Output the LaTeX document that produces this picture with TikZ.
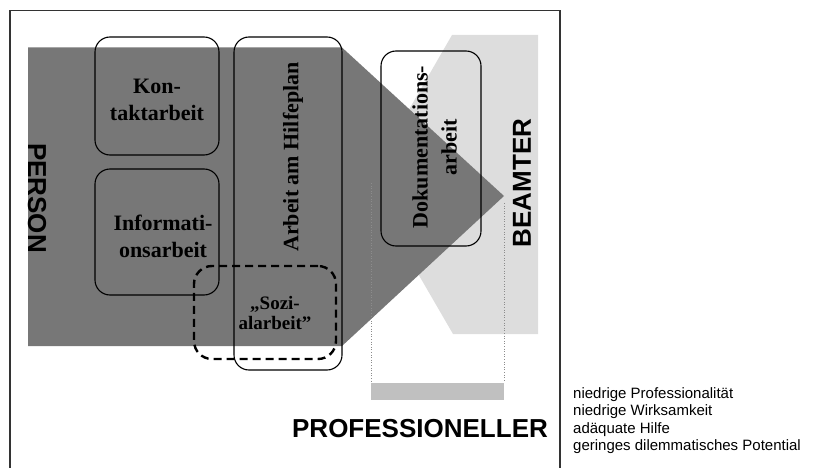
\documentclass[tikz,border=0pt]{standalone}
\usepackage{fontspec}
\setmainfont{Liberation Serif}
\newfontfamily\arialfont{Liberation Sans}
\definecolor{darkfill}{HTML}{777777}
\definecolor{lightfill}{HTML}{DDDDDD}
\definecolor{barfill}{HTML}{C0C0C0}
\begin{document}
\begin{tikzpicture}[x=1pt,y=-1pt,
  box/.style={draw=black,line width=1.1pt,rounded corners=15pt,inner sep=0pt},
  dashbox/.style={draw=black,line width=2.4pt,rounded corners=18pt,dash pattern=on 8pt off 5pt,inner sep=0pt},
  serifbold/.style={font=\fontsize{22}{27}\selectfont\bfseries,align=center,inner sep=0pt},
  bigsans/.style={font=\arialfont\fontsize{26}{30}\selectfont\bfseries,inner sep=0pt},
  legend/.style={font=\arialfont\fontsize{15}{17.5}\selectfont,align=left,inner sep=0pt,anchor=north west},
  guide/.style={draw=black!45,dotted,line width=0.6pt}]
\useasboundingbox (0,0) rectangle (816,468);
% frame
\draw[line width=1.4pt,color=black!80] (10,490) -- (10,10.5) -- (560,10.5) -- (560,490);
% light gray chevron
\fill[lightfill] (452,35) -- (538,35) -- (538,334) -- (453,334) -- (366,184) -- cycle;
% dark arrow
\fill[darkfill] (28,47.5) -- (342,47.5) -- (504,196) -- (342,346) -- (28,346) -- cycle;
% guide lines and bar
\coordinate (g1a) at (371,183);
\coordinate (g1b) at (371,381);
\coordinate (g2a) at (504,203);
\coordinate (g2b) at (504,381);
\draw[guide] (g1a) -- (g1b);
\draw[guide] (g2a) -- (g2b);
\fill[barfill] (371,383) rectangle (504,400);
% boxes
\node[box,minimum width=124pt,minimum height=118pt] (kontakt) at (157,96) {};
\node[box,minimum width=124pt,minimum height=126pt] (info) at (157,232) {};
\node[box,minimum width=108pt,minimum height=333pt] (hilfe) at (288,203.5) {};
\node[dashbox,minimum width=142pt,minimum height=93pt] (sozi) at (265,312.5) {};
\node[box,minimum width=100pt,minimum height=195pt] (doku) at (431,148.5) {};
% texts
\node[serifbold] (tkontakt) at (157,100) {Kon-\\taktarbeit};
\node[serifbold] (tinfo) at (163,236) {Informati-\\onsarbeit};
\node[serifbold,rotate=90] (thilfe) at (293,157) {Arbeit am Hilfeplan};
\node[serifbold,font=\fontsize{19}{20}\selectfont\bfseries] (tsozi) at (275,313) {„Sozi-\\alarbeit”};
\node[serifbold,font=\fontsize{22}{29}\selectfont\bfseries,rotate=90] (tdoku) at (434.5,147) {Dokumentations-\\arbeit};
\node[bigsans,rotate=-90] (person) at (37,198) {PERSON};
\node[bigsans,rotate=90] (beamter) at (522,183) {BEAMTER};
\node[bigsans] (prof) at (420,429) {PROFESSIONELLER};
\node[legend] (leg) at (573,387) {niedrige Professionalität\\niedrige Wirksamkeit\\adäquate Hilfe\\geringes dilemmatisches Potential};
\end{tikzpicture}
\end{document}
